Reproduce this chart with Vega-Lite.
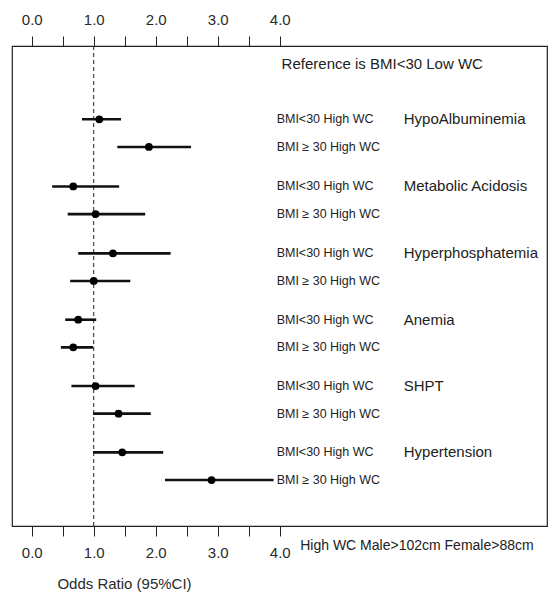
{
  "$schema": "https://vega.github.io/schema/vega-lite/v6.json",
  "width": 535,
  "height": 480,
  "autosize": {"type": "none"},
  "padding": {"left": 12, "top": 46, "right": 9, "bottom": 73},
  "background": "white",
  "config": {
    "view": {"stroke": "#222", "strokeWidth": 1.2},
    "font": "Liberation Sans",
    "text": {"font": "Liberation Sans", "color": "#222"}
  },
  "data": {
    "values": [
      {"outcome": "HypoAlbuminemia", "group": "BMI<30 High WC", "pos": 1, "or": 1.09, "lo": 0.81, "hi": 1.44},
      {"outcome": "HypoAlbuminemia", "group": "BMI ≥ 30 High WC", "pos": 2, "or": 1.89, "lo": 1.38, "hi": 2.57},
      {"outcome": "Metabolic Acidosis", "group": "BMI<30 High WC", "pos": 3.43, "or": 0.67, "lo": 0.33, "hi": 1.41},
      {"outcome": "Metabolic Acidosis", "group": "BMI ≥ 30 High WC", "pos": 4.43, "or": 1.03, "lo": 0.58, "hi": 1.83},
      {"outcome": "Hyperphosphatemia", "group": "BMI<30 High WC", "pos": 5.85, "or": 1.31, "lo": 0.75, "hi": 2.24},
      {"outcome": "Hyperphosphatemia", "group": "BMI ≥ 30 High WC", "pos": 6.85, "or": 1.0, "lo": 0.62, "hi": 1.59},
      {"outcome": "Anemia", "group": "BMI<30 High WC", "pos": 8.25, "or": 0.75, "lo": 0.54, "hi": 1.04},
      {"outcome": "Anemia", "group": "BMI ≥ 30 High WC", "pos": 9.25, "or": 0.67, "lo": 0.47, "hi": 0.99},
      {"outcome": "SHPT", "group": "BMI<30 High WC", "pos": 10.65, "or": 1.03, "lo": 0.64, "hi": 1.66},
      {"outcome": "SHPT", "group": "BMI ≥ 30 High WC", "pos": 11.65, "or": 1.4, "lo": 0.99, "hi": 1.92},
      {"outcome": "Hypertension", "group": "BMI<30 High WC", "pos": 13.05, "or": 1.46, "lo": 0.99, "hi": 2.12},
      {"outcome": "Hypertension", "group": "BMI ≥ 30 High WC", "pos": 14.05, "or": 2.9, "lo": 2.15, "hi": 3.9}
    ]
  },
  "resolve": {"axis": {"x": "independent"}},
  "layer": [
    {
      "mark": {"type": "rule", "strokeDash": [4, 3], "strokeWidth": 1, "color": "#222"},
      "data": {"values": [{}]},
      "encoding": {
        "x": {"datum": 1, "type": "quantitative", "scale": {"domain": [-0.318, 8.31], "nice": false, "zero": false}, "axis": null}
      }
    },
    {
      "mark": {"type": "rule", "strokeWidth": 2.6, "color": "#111"},
      "encoding": {
        "x": {
          "field": "lo", "type": "quantitative",
          "scale": {"domain": [-0.318, 8.31], "nice": false, "zero": false},
          "axis": {
            "orient": "bottom", "values": [0, 0.5, 1, 1.5, 2, 2.5, 3, 3.5, 4],
            "labelExpr": "datum.value % 1 === 0 ? format(datum.value, '.1f') : ''",
            "domain": false, "grid": false, "tickSize": 10, "tickColor": "#222", "tickWidth": 1,
            "labelFontSize": 15, "labelColor": "#2a2a2a", "labelPadding": 9, "labelFont": "Liberation Sans",
            "title": "Odds Ratio (95%CI)", "titleFontSize": 15, "titleFontWeight": "normal", "titleColor": "#2a2a2a",
            "titleFont": "Liberation Sans", "titleX": 112, "titleY": 57, "titleAlign": "center", "titleBaseline": "middle", "titleAnchor": null
          }
        },
        "x2": {"field": "hi"},
        "y": {"field": "pos", "type": "quantitative", "scale": {"domain": [-1.652, 15.714], "nice": false, "zero": false, "reverse": true}, "axis": null}
      }
    },
    {
      "mark": {"type": "point", "filled": true, "size": 60, "color": "#000", "opacity": 1},
      "encoding": {
        "x": {
          "field": "or", "type": "quantitative",
          "axis": {
            "orient": "top", "values": [0, 0.5, 1, 1.5, 2, 2.5, 3, 3.5, 4],
            "labelExpr": "datum.value % 1 === 0 ? format(datum.value, '.1f') : ''",
            "domain": false, "grid": false, "tickSize": 10, "tickColor": "#222", "tickWidth": 1,
            "labelFontSize": 15, "labelColor": "#2a2a2a", "labelPadding": 9, "labelFont": "Liberation Sans",
            "title": null
          }
        },
        "y": {"field": "pos", "type": "quantitative", "axis": null}
      }
    },
    {
      "mark": {"type": "text", "align": "left", "baseline": "middle", "fontSize": 12.5},
      "encoding": {
        "x": {"datum": 3.95, "type": "quantitative", "axis": null},
        "y": {"field": "pos", "type": "quantitative", "axis": null},
        "text": {"field": "group"}
      }
    },
    {
      "transform": [{"filter": "datum.group === 'BMI<30 High WC'"}],
      "mark": {"type": "text", "align": "left", "baseline": "middle", "fontSize": 15},
      "encoding": {
        "x": {"datum": 6.0, "type": "quantitative", "axis": null},
        "y": {"field": "pos", "type": "quantitative", "axis": null},
        "text": {"field": "outcome"}
      }
    },
    {
      "data": {"values": [{"note": "Reference is BMI<30 Low WC"}]},
      "mark": {"type": "text", "align": "left", "baseline": "middle", "fontSize": 15},
      "encoding": {
        "x": {"datum": 4.03, "type": "quantitative", "axis": null},
        "y": {"datum": -1.0, "type": "quantitative", "axis": null},
        "text": {"field": "note"}
      }
    },
    {
      "data": {"values": [{"note": "High WC Male>102cm Female>88cm"}]},
      "mark": {"type": "text", "align": "left", "baseline": "middle", "fontSize": 14},
      "encoding": {
        "x": {"datum": 4.33, "type": "quantitative", "axis": null},
        "y": {"datum": 16.44, "type": "quantitative", "axis": null},
        "text": {"field": "note"}
      }
    }
  ]
}
